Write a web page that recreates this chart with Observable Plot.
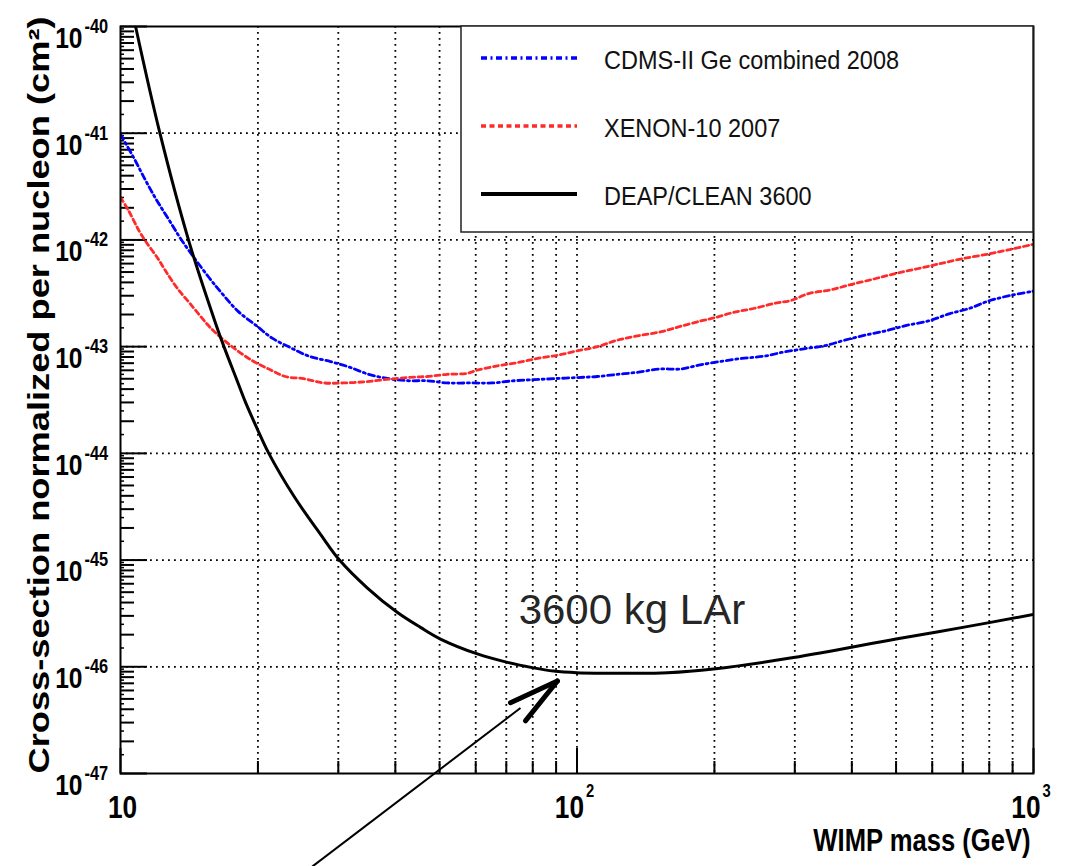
<!DOCTYPE html>
<html>
<head>
<meta charset="utf-8">
<script src="https://cdn.jsdelivr.net/npm/d3@7"></script>
<script src="https://cdn.jsdelivr.net/npm/@observablehq/plot@0.6"></script>
<style>
  html, body { margin: 0; padding: 0; background: #fff; }
  #chart { position: relative; width: 1071px; height: 866px; }
</style>
</head>
<body>
<div id="chart"></div>
<script>
// ---------------- data (WIMP mass in GeV, cross-section in cm^2) ----------------
const cdmsMass = [10, 10.69, 11.34, 11.97, 12.76, 13.65, 15.61, 16.75, 18.1, 19.93, 21.49, 23.59, 25.89, 28.85, 31.62, 34.98, 38.7, 42.8, 46.9, 51.9, 58.4, 65.2, 72.8, 80.5, 88.9, 100, 110.8, 122.6, 135.6, 151.8, 168.5, 186.2, 205.6, 229.8, 256.6, 284, 314, 348.8, 386, 431, 476, 527, 588, 656, 725, 800, 890, 1000];
const cdmsXsec = [9.77e-42, 5.89e-42, 3.63e-42, 2.40e-42, 1.55e-42, 9.77e-43, 4.47e-43, 3.09e-43, 2.14e-43, 1.55e-43, 1.20e-43, 9.77e-44, 8.13e-44, 7.24e-44, 6.46e-44, 5.50e-44, 5.01e-44, 4.79e-44, 4.79e-44, 4.57e-44, 4.57e-44, 4.57e-44, 4.79e-44, 4.90e-44, 5.01e-44, 5.13e-44, 5.25e-44, 5.50e-44, 5.75e-44, 6.17e-44, 6.17e-44, 6.76e-44, 7.24e-44, 7.76e-44, 8.13e-44, 8.91e-44, 9.55e-44, 1.02e-43, 1.15e-43, 1.29e-43, 1.41e-43, 1.58e-43, 1.74e-43, 2.04e-43, 2.29e-43, 2.69e-43, 3.02e-43, 3.31e-43];

const xenonMass = [10, 10.43, 11.0, 11.34, 12.1, 12.55, 13.3, 14.35, 15.49, 16.15, 17.55, 19.42, 21.13, 22.98, 25.2, 27.9, 30.8, 34.2, 37.7, 42.4, 46.9, 51.9, 57.5, 60.5, 67.0, 74.1, 82.0, 90.7, 100, 110.8, 122.6, 135.6, 152.9, 168.5, 186.7, 199.7, 220, 245, 274, 293, 323, 358, 396, 444, 493, 557, 613, 692, 800, 888, 1000];
const xenonXsec = [2.51e-42, 1.86e-42, 1.20e-42, 9.77e-43, 6.61e-43, 5.13e-43, 3.55e-43, 2.40e-43, 1.62e-43, 1.35e-43, 1.00e-43, 7.41e-44, 6.17e-44, 5.25e-44, 5.01e-44, 4.57e-44, 4.57e-44, 4.68e-44, 4.90e-44, 5.13e-44, 5.25e-44, 5.50e-44, 5.62e-44, 6.03e-44, 6.61e-44, 7.08e-44, 7.76e-44, 8.32e-44, 9.12e-44, 1.00e-43, 1.15e-43, 1.26e-43, 1.38e-43, 1.55e-43, 1.74e-43, 1.86e-43, 2.09e-43, 2.29e-43, 2.57e-43, 2.69e-43, 3.16e-43, 3.39e-43, 3.80e-43, 4.27e-43, 4.79e-43, 5.37e-43, 5.89e-43, 6.61e-43, 7.41e-43, 8.13e-43, 9.12e-43];

const deapMass = [10.79, 12.2, 14.11, 16.15, 16.85, 18.01, 18.78, 19.93, 21.13, 23.97, 27.43, 30.18, 34.7, 40.37, 45.41, 50.23, 60.5, 70.42, 80.3, 88.8, 100, 130, 158, 199, 298, 500, 700, 1000];
const deapXsec = [1.0e-40, 1.0e-41, 9.8e-43, 1.66e-43, 1.0e-43, 4.79e-44, 3.02e-44, 1.70e-44, 1.0e-44, 3.98e-45, 1.74e-45, 1.0e-45, 5.50e-46, 3.24e-46, 2.34e-46, 1.82e-46, 1.32e-46, 1.10e-46, 9.77e-47, 9.12e-47, 8.81e-47, 8.71e-47, 8.81e-47, 9.55e-47, 1.22e-46, 1.82e-46, 2.34e-46, 3.09e-46];

const seriesNames  = ["CDMS-II Ge combined 2008", "XENON-10 2007", "DEAP/CLEAN 3600"];
const seriesColors = ["#0000ff", "#ff2a2a", "#000000"];
const seriesDashes = ["6,3.5,2,3.5", "5,3.5", null];
const seriesWidths = [2.8, 2.8, 3];

// axis ticks / labels
const xMajorTicks = [10, 100, 1000];
const xTickBase   = ["10", "10", "10"];
const xTickExp    = ["", "2", "3"];
const xMinorTicks = [20, 30, 40, 50, 60, 70, 80, 90, 200, 300, 400, 500, 600, 700, 800, 900];
const xGridLines  = [20, 30, 40, 50, 60, 70, 80, 90, 100, 200, 300, 400, 500, 600, 700, 800, 900];

const yDecades  = [1e-47, 1e-46, 1e-45, 1e-44, 1e-43, 1e-42, 1e-41, 1e-40];
const yTickExp  = ["-47", "-46", "-45", "-44", "-43", "-42", "-41", "-40"];
const yGridLines = [1e-46, 1e-45, 1e-44, 1e-43, 1e-42, 1e-41];
const yMinorMult = [2, 3, 4, 5, 6, 7, 8, 9];
const yTertMult  = [1.5, 2.5, 3.5, 4.5, 5.5, 6.5, 7.5, 8.5, 9.5];

const xLabel = "WIMP mass (GeV)";
const yLabel = "Cross-section normalized per nucleon (cm\u00B2)";

// annotation
const noteText  = "3600 kg LAr";
const notePoint = {m: 74.5, s: 2.51e-46};
const arrowTail = {m: 26.3, s: 1.34e-48};
const arrowShaftEnd = {m: 75.2, s: 4.11e-47};
const arrowTip  = {m: 90.6, s: 7.36e-47};
const arrowWingEnds = [{m: 71.5, s: 4.61e-47}, {m: 77.1, s: 3.11e-47}];

// ---------------- layout ----------------
const W = 1071, H = 866, mL = 120, mR = 38, mT = 26, mB = 93;
const innerW = W - mL - mR, innerH = H - mT - mB;

// ---------------- build tables ----------------
const toRows = (ms, ss) => ms.map((m, i) => ({m, s: ss[i]}));
const curves = [toRows(cdmsMass, cdmsXsec), toRows(xenonMass, xenonXsec), toRows(deapMass, deapXsec)];

const yMinorTicks = yDecades.slice(0, -1).flatMap(d => yMinorMult.map(k => k * d));
const yTertTicks  = yDecades.slice(0, -1).flatMap(d => yTertMult.map(k => k * d));
const yLabelRows  = yDecades.map((v, i) => ({v, exp: yTickExp[i]}));
const xLabelRows  = xMajorTicks.map((v, i) => ({v, base: xTickBase[i], exp: xTickExp[i]}));

const gridStyle = {stroke: "#000", strokeOpacity: 1, strokeWidth: 1.8, strokeDasharray: "1.8,4.2"};
const yTick = (vals, len, sw) => Plot.tickY(vals, {y: d => d, insetRight: innerW - len, stroke: "#000", strokeWidth: sw});
const xTick = (vals, len, sw) => Plot.tickX(vals, {x: d => d, insetTop: innerH - len, stroke: "#000", strokeWidth: sw});

const chart = Plot.plot({
  width: W,
  height: H,
  marginLeft: mL,
  marginRight: mR,
  marginTop: mT,
  marginBottom: mB,
  x: {type: "log", domain: [10, 1000], axis: null},
  y: {type: "log", domain: [1e-47, 1e-40], axis: null},
  style: {background: "#fff", fontFamily: "'Liberation Sans', Arial, Helvetica, sans-serif", overflow: "visible"},
  marks: [
    Plot.ruleX(xGridLines, {x: d => d, ...gridStyle}),
    Plot.ruleY(yGridLines, {y: d => d, ...gridStyle}),
    yTick(yTertTicks, 4, 1.5),
    yTick(yMinorTicks, 14, 2),
    yTick(yDecades, 27, 2),
    xTick(xMinorTicks, 12, 2),
    xTick(xMajorTicks, 25, 2),
    ...curves.map((rows, i) => Plot.line(rows, {
      x: "m", y: "s", stroke: seriesColors[i], strokeWidth: seriesWidths[i],
      strokeDasharray: seriesDashes[i], curve: "catmull-rom", clip: true
    })),
    Plot.frame({stroke: "#000", strokeWidth: 2}),
    // y tick labels
    Plot.text(yLabelRows, {y: "v", frameAnchor: "left", text: () => "10", textAnchor: "end", lineAnchor: "top",
      dx: -38, fontSize: 30, fontWeight: "bold"}),
    Plot.text(yLabelRows, {y: "v", frameAnchor: "left", text: "exp", textAnchor: "start", lineAnchor: "middle",
      dx: -36, fontSize: 20, fontWeight: "bold"}),
    // x tick labels
    Plot.text(xLabelRows, {filter: d => !d.exp, x: "v", frameAnchor: "bottom", text: "base", textAnchor: "middle",
      lineAnchor: "top", dx: 2, dy: 22, fontSize: 32, fontWeight: "bold"}),
    Plot.text(xLabelRows, {filter: d => d.exp, x: "v", frameAnchor: "bottom", text: "base", textAnchor: "end",
      lineAnchor: "top", dx: 7, dy: 22, fontSize: 32, fontWeight: "bold"}),
    Plot.text(xLabelRows, {filter: d => d.exp, x: "v", frameAnchor: "bottom", text: "exp", textAnchor: "start",
      lineAnchor: "top", dx: 9, dy: 11, fontSize: 18, fontWeight: "bold"}),
    // axis titles
    Plot.text([xLabel], {frameAnchor: "bottom-right", text: d => d, textAnchor: "end", lineAnchor: "bottom",
      dx: -3, dy: 77, fontSize: 32, fontWeight: "bold"}),
    Plot.text([yLabel], {frameAnchor: "left", text: d => d, rotate: -90, textAnchor: "middle", lineAnchor: "bottom",
      dx: -72, dy: -5, fontSize: 29, fontWeight: "bold"}),
    // annotation
    Plot.text([notePoint], {x: "m", y: "s", text: () => noteText, textAnchor: "start", lineAnchor: "bottom",
      fontSize: 42, fill: "#262626"}),
    Plot.link([{a: arrowTail, b: arrowShaftEnd}], {x1: d => d.a.m, y1: d => d.a.s, x2: d => d.b.m, y2: d => d.b.s,
      stroke: "#000", strokeWidth: 2}),
    Plot.link(arrowWingEnds, {x1: () => arrowTip.m, y1: () => arrowTip.s, x2: "m", y2: "s",
      stroke: "#000", strokeWidth: 5, strokeLinecap: "round"})
  ]
});

document.getElementById("chart").append(chart);

// ---------------- legend (drawn into the same SVG) ----------------
const svg = d3.select(chart);
const lg = svg.append("g").attr("class", "legend").attr("text-anchor", "start");
const box = {x: 461, y: 26, w: 572, h: 206};
lg.append("rect").attr("x", box.x).attr("y", box.y).attr("width", box.w).attr("height", box.h)
  .attr("fill", "#fff").attr("stroke", "#222").attr("stroke-width", 1.5);
const rowY = [60, 128, 196];
seriesNames.forEach((name, i) => {
  lg.append("line").attr("x1", 481).attr("x2", 577).attr("y1", rowY[i] - 2).attr("y2", rowY[i] - 2)
    .attr("stroke", seriesColors[i]).attr("stroke-width", i === 2 ? 4 : 3.5)
    .attr("stroke-dasharray", seriesDashes[i]);
  lg.append("text").attr("transform", `translate(604,${rowY[i] + 9})`).attr("font-size", 25)
    .attr("text-anchor", "start").attr("fill", "#111").attr("class", "lgtext").text(name);
});

// emulate the vertically stretched rendering of the original figure:
// scale each text along its own baseline around its anchor point
function scaleAlong(nodes, f) {
  nodes.forEach(node => {
    const t = node.getAttribute("transform") || "";
    node.setAttribute("transform", `${t} scale(${f},1)`.trim());
  });
}
const allText = Array.from(chart.querySelectorAll("text"));
const axisTexts = new Set(["10", ...yTickExp, ...xTickExp.filter(e => e)]);
scaleAlong(allText.filter(t => !t.classList.contains("lgtext") && axisTexts.has(t.textContent)), 0.82);
scaleAlong(allText.filter(t => t.textContent === xLabel), 0.8);
scaleAlong(allText.filter(t => t.textContent === yLabel), 1.25);
scaleAlong(allText.filter(t => t.classList.contains("lgtext")), 0.94);
</script>
</body>
</html>
